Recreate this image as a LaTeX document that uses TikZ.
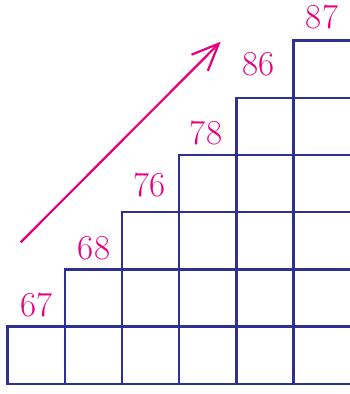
\documentclass[tikz,border=0pt]{standalone}
\usetikzlibrary{arrows.meta}
\definecolor{gridblue}{RGB}{46,49,146}
\definecolor{labelpink}{RGB}{230,0,126}
\begin{document}
\begin{tikzpicture}[x=1pt,y=-1pt,
  cellline/.style={draw=gridblue,line width=2.4pt},
  val/.style={text=labelpink,font=\fontsize{35}{35}\selectfont,inner sep=0pt},
  trend/.style={draw=labelpink,line width=2.2pt,-{Straight Barb[length=27pt,width=23pt,line width=2.2pt]}}]
\useasboundingbox (0,0) rectangle (350,394);
\def\cs{57.2}
\def\xo{7.5}
\def\yo{383.8}
% columns: column i has i cells
\foreach \i in {1,...,6}{
  \foreach \j in {1,...,\i}{
    \draw[cellline] ({\xo+(\i-1)*\cs},{\yo-(\j-1)*\cs}) rectangle ({\xo+\i*\cs},{\yo-\j*\cs});
  }
}
\node[val] (l67) at (36.7,305) {67};
\node[val] (l68) at (94,248) {68};
\node[val] (l76) at (149.5,185) {76};
\node[val] (l78) at (206,133) {78};
\node[val] (l86) at (258.5,64) {86};
\node[val] (l87) at (322,16.5) {87};
\coordinate (atail) at (20.7,242.3);
\coordinate (ahead) at (220.7,41.7);
\draw[trend] (atail) -- (ahead);
\end{tikzpicture}
\end{document}
